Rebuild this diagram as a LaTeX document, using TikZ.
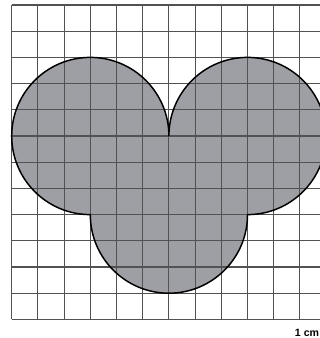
\documentclass[tikz,border=0pt]{standalone}
\usepackage{fontspec}
\setsansfont{Liberation Sans}
\begin{document}
\begin{tikzpicture}[x=1cm,y=1cm,
  gridline/.style={draw=black!68,line width=1.25pt},
  outline/.style={draw=black,line width=1.6pt,line join=miter},
  scalelabel/.style={font=\sffamily\bfseries\fontsize{11.5}{12}\selectfont,anchor=base east,inner sep=0pt}]
\useasboundingbox (-0.447,-0.71) rectangle (11.767,12.191);
\fill[white] (-0.447,-0.71) rectangle (11.767,12.191);
% shaded shape: union of three circles
\path[fill={rgb,255:red,158;green,159;blue,164}] (6,7) arc[start angle=0,end angle=270,radius=3]
  arc[start angle=180,end angle=360,radius=3]
  arc[start angle=-90,end angle=180,radius=3] -- cycle;
% grid
\draw[gridline] (0,0) grid (12,12);
% outline
\draw[outline] (6,7) arc[start angle=0,end angle=270,radius=3]
  arc[start angle=180,end angle=360,radius=3]
  arc[start angle=-90,end angle=180,radius=3] -- cycle;
\node[scalelabel] (lbl) at (11.74,-0.64) {1 cm};
\end{tikzpicture}
\end{document}
